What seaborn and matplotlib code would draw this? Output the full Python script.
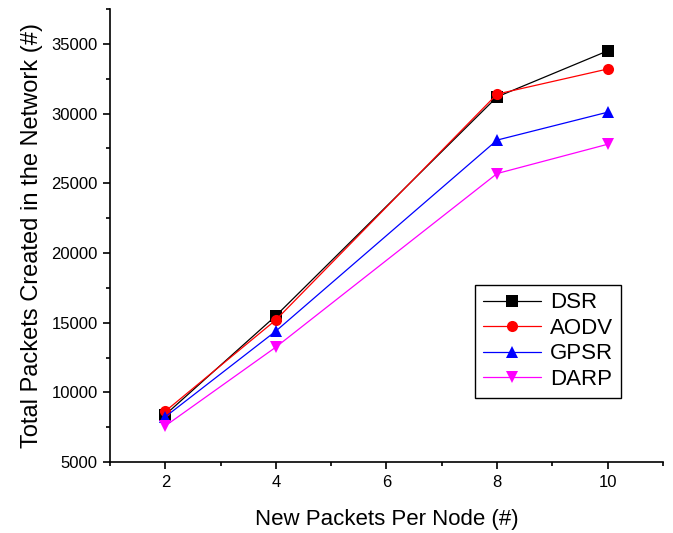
import matplotlib
matplotlib.use("Agg")
import matplotlib.pyplot as plt
from matplotlib.ticker import MultipleLocator
import pandas as pd
import seaborn as sns

# Packets per node and total packets generated for each routing protocol
packets_per_node = [2, 4, 8, 10]
dsr = [8400, 15500, 31200, 34500]
aodv = [8650, 15200, 31400, 33200]
gpsr = [8250, 14400, 28100, 30100]
darp = [7600, 13250, 25700, 27800]

protocols = ["DSR", "AODV", "GPSR", "DARP"]
colors = {"DSR": "#000000", "AODV": "#ff0000", "GPSR": "#0000ff", "DARP": "#ff00ff"}
markers = {"DSR": "s", "AODV": "o", "GPSR": "^", "DARP": "v"}

df = pd.DataFrame({
    "x": packets_per_node * 4,
    "y": dsr + aodv + gpsr + darp,
    "Protocol": [p for p in protocols for _ in packets_per_node],
})

sns.set_style("ticks")
plt.rcParams["font.family"] = ["Liberation Sans", "DejaVu Sans"]
plt.rcParams["text.color"] = "black"
plt.rcParams["axes.labelcolor"] = "black"

fig = plt.figure(figsize=(6.73, 5.33), dpi=100)
ax = fig.add_axes([0.1635, 0.133, 0.8215, 0.85])

sns.lineplot(
    data=df, x="x", y="y", hue="Protocol", style="Protocol",
    hue_order=protocols, style_order=protocols,
    palette=colors, markers=markers, dashes=False,
    linewidth=0.9, markersize=8, markeredgewidth=0,
    ax=ax,
)

ax.set_xlim(1, 11)
ax.set_ylim(5000, 37500)
ax.xaxis.set_major_locator(MultipleLocator(2))
ax.xaxis.set_minor_locator(MultipleLocator(1))
ax.yaxis.set_major_locator(MultipleLocator(5000))
ax.yaxis.set_minor_locator(MultipleLocator(2500))

for side in ("top", "right"):
    ax.spines[side].set_visible(False)
for side in ("left", "bottom"):
    ax.spines[side].set_linewidth(1.2)
    ax.spines[side].set_color("black")

ax.tick_params(axis="both", which="major", direction="out", length=5, width=1.2,
               labelsize=12, colors="black", labelcolor="black", pad=4)
ax.tick_params(axis="both", which="minor", direction="out", length=3, width=1.2,
               colors="black")

ax.set_xlabel("New Packets Per Node (#)", fontsize=16, labelpad=14, color="black")
ax.set_ylabel("Total Packets Created in the Network (#)", fontsize=17, labelpad=6,
              color="black")

leg = ax.legend(
    loc="center", bbox_to_anchor=(0.792, 0.267), fontsize=16,
    frameon=True, fancybox=False, framealpha=1, edgecolor="black",
    handlelength=2.6, handletextpad=0.4, labelspacing=0.2, borderpad=0.35,
    title=None,
)
leg.get_frame().set_linewidth(1.0)
for t in leg.get_texts():
    t.set_color("black")

fig.savefig("out.png", dpi=100)
